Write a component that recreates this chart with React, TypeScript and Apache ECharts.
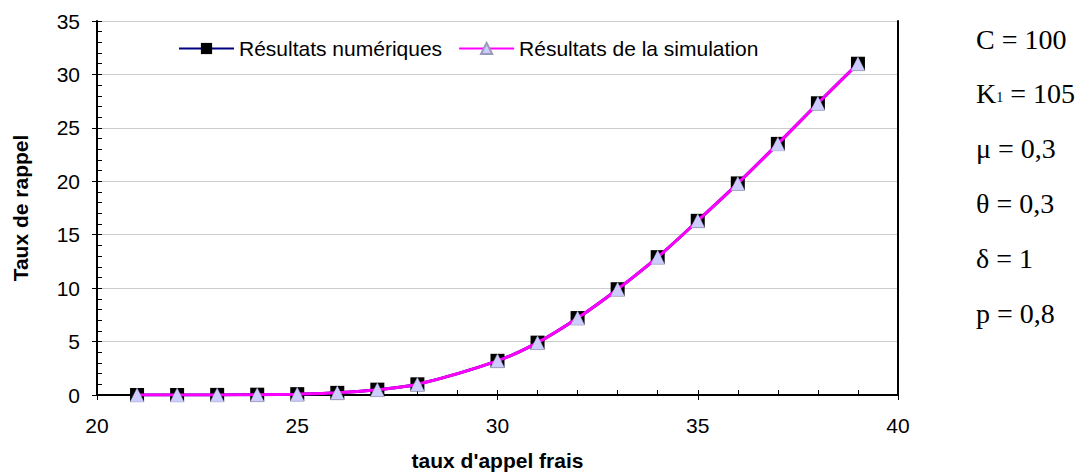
import React, { useEffect, useRef } from "react";
import * as echarts from "echarts";

const xValues = [21, 22, 23, 24, 25, 26, 27, 28, 30, 31, 32, 33, 34, 35, 36, 37, 38, 39];
const numericValues = [0, 0, 0.01, 0.03, 0.08, 0.2, 0.5, 1.0, 3.2, 4.9, 7.2, 9.9, 12.9, 16.3, 19.8, 23.5, 27.3, 31.0];
const simulationValues = [0, 0, 0.01, 0.03, 0.08, 0.2, 0.5, 1.0, 3.2, 4.9, 7.2, 9.9, 12.9, 16.3, 19.8, 23.5, 27.3, 31.0];
const seriesNames = ["Résultats numériques", "Résultats de la simulation"];
const params = ["C = 100", "K1 = 105", "μ = 0,3", "θ = 0,3", "δ = 1", "p = 0,8"];

export default function App() {
  const ref = useRef<HTMLDivElement>(null);
  useEffect(() => {
    if (!ref.current) return;
    const chart = echarts.init(ref.current, null, { renderer: "svg" });
    const font = "'Liberation Sans', Arial, sans-serif";
    const serif = "'Liberation Serif', 'Times New Roman', serif";
    const paramY = [41, 95, 150, 205, 260, 315];
    const graphics = params.map((p, i) => {
      if (p.startsWith("K1")) {
        return {
          type: "text",
          left: 976,
          top: paramY[i] - 16,
          style: {
            text: "{a|K}{s|1}{a| = 105}",
            rich: {
              a: { fontFamily: serif, fontSize: 28, fill: "#000", verticalAlign: "bottom" },
              s: { fontFamily: serif, fontSize: 14, fill: "#000", verticalAlign: "bottom", padding: [0, 0, 3, 0] },
            },
          },
        };
      }
      return {
        type: "text",
        left: 976,
        top: paramY[i] - 16,
        style: { text: p, fontFamily: serif, fontSize: 28, fill: "#000" },
      };
    });
    chart.setOption({
      animation: false,
      backgroundColor: "#fff",
      grid: { left: 97, top: 21, width: 801, height: 374, containLabel: false, outerBoundsMode: "none" },
      legend: {
        top: 33,
        left: 173,
        itemWidth: 55,
        itemHeight: 14,
        itemGap: 16,
        textStyle: { fontFamily: font, fontSize: 21, color: "#000" },
        data: seriesNames,
      },
      xAxis: [
        {
          type: "value",
          min: 20,
          max: 40,
          interval: 5,
          position: "bottom",
          name: "taux d'appel frais",
          nameLocation: "middle",
          nameGap: 55,
          nameTextStyle: { fontFamily: font, fontSize: 21, fontWeight: "bold", color: "#000" },
          axisLine: { lineStyle: { color: "#000", width: 2 } },
          axisTick: { show: true, length: 5, lineStyle: { color: "#000", width: 1 } },
          minorTick: { show: false },
          axisLabel: { fontFamily: font, fontSize: 21, color: "#000", margin: 20 },
          splitLine: { show: false },
        },
        {
          type: "value",
          min: 20,
          max: 40,
          interval: 5,
          position: "bottom",
          axisLine: { show: false },
          axisTick: { show: true, inside: true, length: 5, lineStyle: { color: "#000", width: 1 } },
          minorTick: { show: true, splitNumber: 5, length: 5, lineStyle: { color: "#000", width: 1 } },
          axisLabel: { show: false },
          splitLine: { show: false },
        },
        {
          type: "value",
          min: 20,
          max: 40,
          position: "top",
          axisLine: { lineStyle: { color: "#000", width: 2 } },
          axisTick: { show: false },
          axisLabel: { show: false },
          splitLine: { show: false },
        },
      ],
      yAxis: [
        {
          type: "value",
          min: 0,
          max: 35,
          interval: 5,
          position: "left",
          name: "Taux de rappel",
          nameLocation: "middle",
          nameGap: 66,
          nameTextStyle: { fontFamily: font, fontSize: 21, fontWeight: "bold", color: "#000" },
          axisLine: { lineStyle: { color: "#000", width: 2 } },
          axisTick: { show: true, length: 5, lineStyle: { color: "#000", width: 1 } },
          axisLabel: { fontFamily: font, fontSize: 21, color: "#000", margin: 17 },
          splitLine: { show: true, lineStyle: { color: "#cccccc", width: 1 } },
        },
        {
          type: "value",
          min: 0,
          max: 35,
          interval: 5,
          position: "left",
          axisLine: { show: false },
          axisTick: { show: true, inside: true, length: 5, lineStyle: { color: "#000", width: 1 } },
          minorTick: { show: true, splitNumber: 5, length: 5, lineStyle: { color: "#000", width: 1 } },
          axisLabel: { show: false },
          splitLine: { show: false },
        },
        {
          type: "value",
          min: 0,
          max: 35,
          position: "right",
          axisLine: { lineStyle: { color: "#000", width: 2 } },
          axisTick: { show: false },
          axisLabel: { show: false },
          splitLine: { show: false },
        },
      ],
      series: [
        {
          name: seriesNames[0],
          type: "line",
          smooth: 0.3,
          data: xValues.map((x, i) => [x, numericValues[i]]),
          lineStyle: { color: "#000080", width: 3 },
          itemStyle: { color: "#000", borderColor: "#000", borderWidth: 0 },
          symbol: "rect",
          symbolSize: 14,
          z: 2,
        },
        {
          name: seriesNames[1],
          type: "line",
          smooth: 0.3,
          data: xValues.map((x, i) => [x, simulationValues[i]]),
          lineStyle: { color: "#ff00ff", width: 3 },
          itemStyle: { color: "#ccccff", borderColor: "#9999bb", borderWidth: 0.4 },
          symbol: "triangle",
          symbolSize: 14,
          z: 3,
        },
      ],
      graphic: graphics,
    });
    return () => chart.dispose();
  }, []);
  return (
    <div
      ref={ref}
      style={{ position: "fixed", left: 0, top: 0, width: 1083, height: 475, background: "#fff" }}
    />
  );
}
